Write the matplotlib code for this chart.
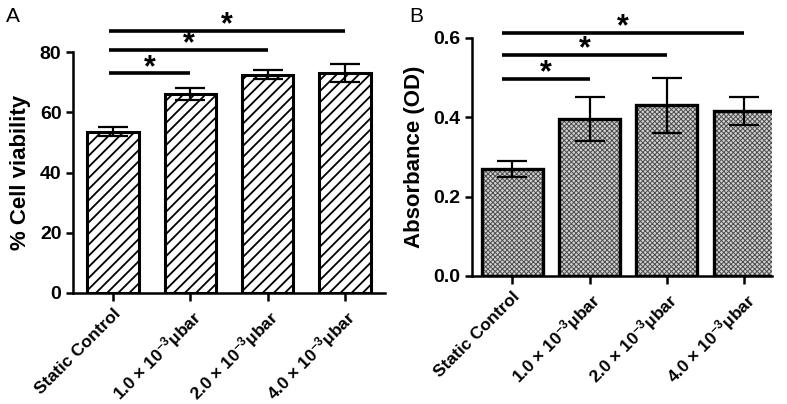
import numpy as np
import matplotlib.pyplot as plt

plt.rcParams['font.family'] = ['Liberation Sans', 'DejaVu Sans']
plt.rcParams['mathtext.fontset'] = 'custom'
plt.rcParams['mathtext.bf'] = 'Liberation Sans:bold'
plt.rcParams['mathtext.rm'] = 'Liberation Sans:bold'
plt.rcParams['mathtext.default'] = 'bf'

categories = ['Static Control',
              '1.0 × 10$^{-3}$μbar',
              '2.0 × 10$^{-3}$μbar',
              '4.0 × 10$^{-3}$μbar']

viability = [53.5, 66.0, 72.5, 73.0]
viability_err = [1.5, 2.0, 1.5, 3.0]
viability_sig = [(0, 1, 73.0), (0, 2, 80.7), (0, 3, 87.0)]

absorbance = [0.27, 0.395, 0.43, 0.415]
absorbance_err = [0.02, 0.055, 0.07, 0.035]
absorbance_sig = [(0, 1, 0.497), (0, 2, 0.557), (0, 3, 0.613)]


def style_axis(ax):
    for s in ['top', 'right']:
        ax.spines[s].set_visible(False)
    for s in ['left', 'bottom']:
        ax.spines[s].set_linewidth(1.8)
    ax.tick_params(width=1.8, length=5, labelsize=14)
    ax.tick_params(axis='x', length=6)
    for lab in ax.get_yticklabels():
        lab.set_fontweight('bold')
    ax.set_xticks(range(len(categories)))
    ax.set_xticklabels(categories, rotation=45, ha='right',
                       rotation_mode='anchor', fontsize=12.5,
                       fontweight='bold')


def draw_sig(ax, sig, x_off, star_off):
    for a, b, y in sig:
        ax.plot([a - x_off, b], [y, y], color='black', lw=2.6,
                clip_on=False, solid_capstyle='butt')
        ax.text((a - x_off + b) / 2, y - star_off, '*', ha='center',
                va='bottom', fontsize=22, fontweight='bold')


fig = plt.figure(figsize=(7.87, 4.04), dpi=100)

# panel A
ax1 = fig.add_axes([0.093, 0.275, 0.396, 0.596])
x = np.arange(len(categories))
with plt.rc_context({'hatch.linewidth': 1.3}):
    ax1.bar(x, viability, width=0.67, facecolor='white', edgecolor='black',
            linewidth=2.2, hatch='///')
ax1.errorbar(x, viability, yerr=viability_err, fmt='none', ecolor='black',
             elinewidth=1.6, capsize=11, capthick=1.6)
ax1.set_ylim(0, 80)
ax1.set_xlim(-0.52, 3.52)
ax1.set_yticks([0, 20, 40, 60, 80])
style_axis(ax1)
ax1.set_ylabel('% Cell viability', fontsize=16, fontweight='bold', labelpad=6)
draw_sig(ax1, viability_sig, 0.05, 3.2)
fig.text(0.008, 0.945, 'A', fontsize=15)

# panel B
ax2 = fig.add_axes([0.600, 0.317, 0.381, 0.589])
with plt.rc_context({'hatch.linewidth': 0.7}):
    bars = ax2.bar(x, absorbance, width=0.79, facecolor='#d2d2d2',
                   edgecolor='black', linewidth=2.4, hatch='xxxxxxx')
for b in bars:
    b._hatch_color = (0.3, 0.3, 0.3, 1.0)
ax2.errorbar(x, absorbance, yerr=absorbance_err, fmt='none', ecolor='black',
             elinewidth=1.6, capsize=11, capthick=1.6)
ax2.set_ylim(0, 0.6)
ax2.set_xlim(-0.52, 3.36)
ax2.set_yticks([0.0, 0.2, 0.4, 0.6])
ax2.set_yticklabels(['0.0', '0.2', '0.4', '0.6'])
style_axis(ax2)
ax2.set_ylabel('Absorbance (OD)', fontsize=16, fontweight='bold', labelpad=6)
draw_sig(ax2, absorbance_sig, 0.13, 0.024)
fig.text(0.52, 0.945, 'B', fontsize=15)

fig.savefig('out.png', dpi=100)
